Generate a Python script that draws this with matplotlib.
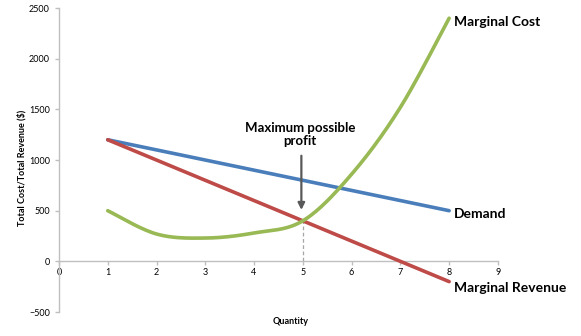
import numpy as np
import matplotlib

matplotlib.use("Agg")
import matplotlib.pyplot as plt

# values
quantity = [1, 2, 3, 4, 5, 6, 7, 8]
demand = [1200, 1100, 1000, 900, 800, 700, 600, 500]
marginal_revenue = [1200, 1000, 800, 600, 400, 200, 0, -200]
marginal_cost = [500, 270, 230, 280, 400, 860, 1520, 2400]

BLUE = "#4a7ebb"
RED = "#be4b48"
GREEN = "#98b954"
AXIS = "#bfbfbf"

plt.rcParams["font.family"] = ["Lato", "DejaVu Sans"]


def smooth(xs, ys, n=30):
    """Catmull-Rom smoothing, like a spreadsheet 'smoothed line'."""
    xs, ys = np.asarray(xs, float), np.asarray(ys, float)
    px = np.concatenate([[xs[0]], xs, [xs[-1]]])
    py = np.concatenate([[ys[0]], ys, [ys[-1]]])
    outx, outy = [], []
    t = np.linspace(0, 1, n)
    for i in range(1, len(px) - 2):
        for p, out in ((px, outx), (py, outy)):
            p0, p1, p2, p3 = p[i - 1], p[i], p[i + 1], p[i + 2]
            out.extend(0.5 * ((2 * p1) + (-p0 + p2) * t
                              + (2 * p0 - 5 * p1 + 4 * p2 - p3) * t ** 2
                              + (-p0 + 3 * p1 - 3 * p2 + p3) * t ** 3))
    return outx, outy


fig = plt.figure(figsize=(5.81, 3.36), dpi=100)
ax = fig.add_axes([0.1015, 0.0714, 0.7555, 0.9046])

ax.plot(quantity, demand, color=BLUE, lw=2.6, solid_capstyle="round", zorder=3)
ax.plot(quantity, marginal_revenue, color=RED, lw=2.6, solid_capstyle="round", zorder=3)
mx, my = smooth(quantity, marginal_cost)
ax.plot(mx, my, color=GREEN, lw=2.6, solid_capstyle="round", zorder=4)

ax.plot([5, 5], [0, 400], color="#a6a6a6", lw=0.9, ls=(0, (3, 2)), zorder=2)
ax.annotate("", xy=(4.97, 480), xytext=(4.97, 1070),
            arrowprops=dict(arrowstyle="-|>", color="#595959", lw=1.6,
                            mutation_scale=10), zorder=5)
ax.text(4.94, 1250, "Maximum possible\nprofit", ha="center", va="center",
        fontsize=9.5, fontweight="bold", linespacing=1.05)

ax.text(8.1, 2360, "Marginal Cost", ha="left", va="center", fontsize=10, fontweight="bold")
ax.text(8.1, 464, "Demand", ha="left", va="center", fontsize=10, fontweight="bold")
ax.text(8.1, -266, "Marginal Revenue", ha="left", va="center", fontsize=10, fontweight="bold")

ax.set_xlim(0, 9)
ax.set_ylim(-500, 2500)
ax.set_xticks(range(0, 10))
ax.set_yticks(range(-500, 2501, 500))
ax.spines["top"].set_visible(False)
ax.spines["right"].set_visible(False)
ax.spines["bottom"].set_position(("data", 0))
for s in ("left", "bottom"):
    ax.spines[s].set_color(AXIS)
    ax.spines[s].set_linewidth(1.0)
ax.tick_params(axis="both", colors=AXIS, labelcolor="black", labelsize=6.5,
               length=3, width=1.0)
ax.tick_params(axis="x", pad=2)
ax.patch.set_visible(False)

fig.text(0.5, 1 - 321 / 336, "Quantity", ha="center", va="center",
         fontsize=6.5, fontweight="bold")
fig.text(22 / 581, 0.5, "Total Cost/Total Revenue ($)", rotation=90,
         ha="center", va="center", fontsize=6.5, fontweight="bold")

fig.savefig("out.png", dpi=100, facecolor="white")
